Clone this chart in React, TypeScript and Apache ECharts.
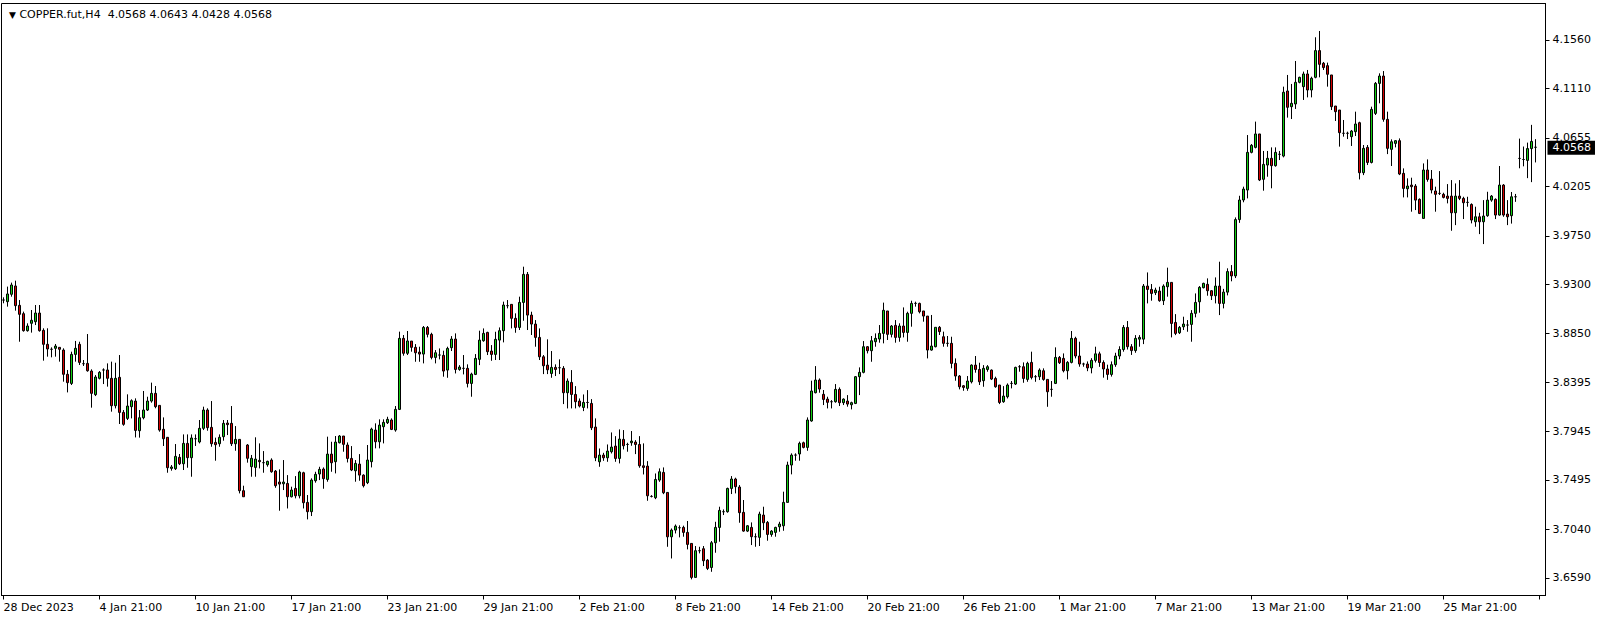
import React, { useEffect, useRef } from 'react';
import * as echarts from 'echarts';

const symbolName = 'COPPER.fut,H4';
const dateLabels = [
  '28 Dec 2023', '4 Jan 21:00', '10 Jan 21:00', '17 Jan 21:00', '23 Jan 21:00', '29 Jan 21:00',
  '2 Feb 21:00', '8 Feb 21:00', '14 Feb 21:00', '20 Feb 21:00', '26 Feb 21:00', '1 Mar 21:00',
  '7 Mar 21:00', '13 Mar 21:00', '19 Mar 21:00', '25 Mar 21:00',
];
const labelEvery = 24;
const emptyBarsRight = 2;
const yTickValues = [3.659, 3.704, 3.7495, 3.7945, 3.8395, 3.885, 3.93, 3.975, 4.0205, 4.0655, 4.111, 4.156];
const yMin = 3.6428;
const yMax = 4.1896;

const opens = [
  3.9157, 3.9142, 3.9210, 3.9287, 3.9108, 3.9031, 3.8874, 3.8942, 3.8957, 3.9037,
  3.8877, 3.8748, 3.8702, 3.8711, 3.8720, 3.8695, 3.8471, 3.8387, 3.8655, 3.8748,
  3.8569, 3.8572, 3.8501, 3.8283, 3.8434, 3.8511, 3.8511, 3.8434, 3.8181, 3.8443,
  3.8119, 3.8064, 3.8172, 3.8224, 3.7950, 3.8070, 3.8141, 3.8224, 3.8295, 3.8184,
  3.7963, 3.7889, 3.7602, 3.7599, 3.7704, 3.7645, 3.7833, 3.7701, 3.7876, 3.7846,
  3.7972, 3.8141, 3.7981, 3.7842, 3.7830, 3.7895, 3.8021, 3.8018, 3.7830, 3.7870,
  3.7396, 3.7818, 3.7618, 3.7611, 3.7676, 3.7655, 3.7636, 3.7679, 3.7577, 3.7476,
  3.7460, 3.7463, 3.7340, 3.7417, 3.7349, 3.7562, 3.7288, 3.7202, 3.7488, 3.7550,
  3.7596, 3.7500, 3.7734, 3.7664, 3.7839, 3.7901, 3.7818, 3.7694, 3.7580, 3.7642,
  3.7540, 3.7470, 3.7664, 3.7956, 3.7848, 3.7987, 3.8024, 3.8049, 3.7956, 3.8147,
  3.8803, 3.8665, 3.8778, 3.8720, 3.8676, 3.8658, 3.8904, 3.8840, 3.8627, 3.8649,
  3.8646, 3.8510, 3.8717, 3.8797, 3.8516, 3.8526, 3.8526, 3.8387, 3.8470, 3.8609,
  3.8781, 3.8858, 3.8686, 3.8655, 3.8787, 3.8874, 3.9105, 3.9117, 3.8988, 3.8904,
  3.9135, 3.9394, 3.9018, 3.8935, 3.8812, 3.8633, 3.8556, 3.8479, 3.8535, 3.8532,
  3.8526, 3.8301, 3.8396, 3.8285, 3.8224, 3.8165, 3.8211, 3.8202, 3.7984, 3.7663,
  3.7725, 3.7700, 3.7756, 3.7808, 3.7694, 3.7870, 3.7823, 3.7839, 3.7845, 3.7823,
  3.7626, 3.7623, 3.7343, 3.7331, 3.7494, 3.7565, 3.7380, 3.6970, 3.7032, 3.7054,
  3.7057, 3.7011, 3.6909, 3.6595, 3.6842, 3.6860, 3.6755, 3.6687, 3.6915, 3.7057,
  3.7202, 3.7202, 3.7417, 3.7504, 3.7430, 3.7196, 3.7023, 3.7057, 3.6971, 3.6965,
  3.7171, 3.7103, 3.6992, 3.7011, 3.7063, 3.7072, 3.7288, 3.7633, 3.7725, 3.7735,
  3.7839, 3.7796, 3.8040, 3.8301, 3.8418, 3.8286, 3.8242, 3.8218, 3.8218, 3.8332,
  3.8209, 3.8224, 3.8190, 3.8202, 3.8449, 3.8489, 3.8726, 3.8689, 3.8772, 3.8797,
  3.8849, 3.9056, 3.8840, 3.8923, 3.8812, 3.8917, 3.8858, 3.9034, 3.9126, 3.9126,
  3.9056, 3.9009, 3.8695, 3.8726, 3.8905, 3.8818, 3.8757, 3.8757, 3.8572, 3.8455,
  3.8365, 3.8341, 3.8402, 3.8556, 3.8516, 3.8412, 3.8516, 3.8510, 3.8433, 3.8372,
  3.8218, 3.8264, 3.8387, 3.8381, 3.8541, 3.8541, 3.8424, 3.8581, 3.8449, 3.8449,
  3.8504, 3.8424, 3.8332, 3.8387, 3.8627, 3.8618, 3.8504, 3.8581, 3.8803, 3.8640,
  3.8566, 3.8566, 3.8530, 3.8600, 3.8660, 3.8580, 3.8520, 3.8470, 3.8560, 3.8640,
  3.8700, 3.8904, 3.8726, 3.8690, 3.8796, 3.8796, 3.9286, 3.9255, 3.9225, 3.9240,
  3.9151, 3.9280, 3.9320, 3.8950, 3.8855, 3.8910, 3.8926, 3.8932, 3.9034, 3.9141,
  3.9271, 3.9302, 3.9243, 3.9197, 3.9286, 3.9126, 3.9230, 3.9420, 3.9380, 3.9900,
  4.0081, 4.0173, 4.0521, 4.0567, 4.0691, 4.0272, 4.0404, 4.0466, 4.0398, 4.0503,
  4.0487, 4.1088, 4.0943, 4.0968, 4.1168, 4.1128, 4.1245, 4.1097, 4.1214, 4.1461,
  4.1344, 4.1322, 4.1236, 4.0949, 4.0912, 4.0697, 4.0697, 4.0666, 4.0712, 4.0795,
  4.0333, 4.0567, 4.0428, 4.0881, 4.1158, 4.1226, 4.0826, 4.0549, 4.0604, 4.0629,
  4.0327, 4.0185, 4.0219, 4.0210, 4.0087, 3.9911, 4.0358, 4.0274, 4.0164, 4.0142,
  4.0133, 4.0117, 4.0117, 3.9963, 4.0117, 4.0096, 4.0059, 4.0040, 3.9880, 3.9926,
  3.9880, 3.9936, 4.0080, 4.0087, 3.9942, 4.0219, 3.9951, 3.9936, 4.0111, 4.0465,
  4.0455, 4.0447, 4.0556, 4.0568,
];

const highs = [
  3.9182, 3.9281, 3.9318, 3.9336, 3.9157, 3.9050, 3.8942, 3.9065, 3.9111, 3.9111,
  3.8896, 3.8896, 3.8720, 3.8751, 3.8720, 3.8711, 3.8511, 3.8680, 3.8779, 3.8772,
  3.8603, 3.8843, 3.8517, 3.8464, 3.8501, 3.8526, 3.8572, 3.8588, 3.8578, 3.8649,
  3.8141, 3.8286, 3.8240, 3.8249, 3.8141, 3.8317, 3.8264, 3.8394, 3.8363, 3.8184,
  3.8073, 3.7889, 3.7633, 3.7827, 3.7735, 3.7916, 3.7916, 3.7916, 3.7916, 3.8049,
  3.8172, 3.8157, 3.8224, 3.7886, 3.7916, 3.8049, 3.8049, 3.8178, 3.7993, 3.7870,
  3.7442, 3.7827, 3.7726, 3.7889, 3.7833, 3.7762, 3.7673, 3.7695, 3.7587, 3.7593,
  3.7679, 3.7540, 3.7433, 3.7531, 3.7580, 3.7571, 3.7356, 3.7510, 3.7571, 3.7617,
  3.7611, 3.7895, 3.7848, 3.7901, 3.7910, 3.7901, 3.7842, 3.7808, 3.7679, 3.7734,
  3.7547, 3.7818, 3.7978, 3.8018, 3.8055, 3.8055, 3.8079, 3.8064, 3.8178, 3.8865,
  3.8834, 3.8871, 3.8778, 3.8750, 3.8726, 3.8917, 3.8917, 3.8855, 3.8695, 3.8710,
  3.8689, 3.8726, 3.8824, 3.8849, 3.8556, 3.8649, 3.8563, 3.8486, 3.8658, 3.8874,
  3.8895, 3.8864, 3.8741, 3.8864, 3.8904, 3.9142, 3.9157, 3.9117, 3.9034, 3.9188,
  3.9465, 3.9416, 3.9049, 3.8972, 3.8895, 3.8649, 3.8794, 3.8686, 3.8563, 3.8609,
  3.8547, 3.8433, 3.8510, 3.8362, 3.8248, 3.8285, 3.8325, 3.8242, 3.8064, 3.7786,
  3.7746, 3.7823, 3.7934, 3.7900, 3.7962, 3.7956, 3.7839, 3.7947, 3.7863, 3.7900,
  3.7833, 3.7669, 3.7355, 3.7555, 3.7602, 3.7611, 3.7380, 3.7047, 3.7084, 3.7076,
  3.7073, 3.7116, 3.6909, 3.6885, 3.6878, 3.6885, 3.6764, 3.6931, 3.7109, 3.7248,
  3.7223, 3.7424, 3.7531, 3.7516, 3.7448, 3.7310, 3.7079, 3.7103, 3.7002, 3.7202,
  3.7248, 3.7116, 3.7032, 3.7063, 3.7109, 3.7387, 3.7664, 3.7741, 3.7741, 3.7849,
  3.7849, 3.8073, 3.8412, 3.8547, 3.8433, 3.8326, 3.8264, 3.8233, 3.8381, 3.8350,
  3.8249, 3.8279, 3.8218, 3.8455, 3.8535, 3.8778, 3.8732, 3.8825, 3.8849, 3.8926,
  3.9133, 3.9056, 3.8926, 3.8972, 3.8942, 3.9089, 3.9049, 3.9151, 3.9142, 3.9133,
  3.9056, 3.9009, 3.9019, 3.8905, 3.8917, 3.8865, 3.8825, 3.8818, 3.8618, 3.8464,
  3.8372, 3.8455, 3.8563, 3.8640, 3.8578, 3.8556, 3.8556, 3.8516, 3.8449, 3.8372,
  3.8362, 3.8387, 3.8409, 3.8541, 3.8556, 3.8581, 3.8587, 3.8680, 3.8464, 3.8526,
  3.8526, 3.8424, 3.8409, 3.8720, 3.8640, 3.8664, 3.8593, 3.8871, 3.8818, 3.8772,
  3.8578, 3.8590, 3.8620, 3.8726, 3.8680, 3.8600, 3.8560, 3.8590, 3.8670, 3.8730,
  3.8926, 3.8963, 3.8750, 3.8833, 3.8833, 3.9305, 3.9412, 3.9305, 3.9271, 3.9280,
  3.9302, 3.9456, 3.9320, 3.9027, 3.8917, 3.9003, 3.8972, 3.9064, 3.9218, 3.9286,
  3.9317, 3.9357, 3.9249, 3.9366, 3.9511, 3.9260, 3.9450, 3.9480, 3.9920, 4.0120,
  4.0204, 4.0681, 4.0598, 4.0805, 4.0691, 4.0534, 4.0534, 4.0567, 4.0567, 4.0534,
  4.1128, 4.1236, 4.1153, 4.1365, 4.1220, 4.1267, 4.1282, 4.1220, 4.1584, 4.1642,
  4.1356, 4.1350, 4.1236, 4.0949, 4.0912, 4.0820, 4.0712, 4.0728, 4.0897, 4.0804,
  4.0589, 4.0589, 4.0943, 4.1171, 4.1251, 4.1272, 4.0897, 4.0641, 4.0635, 4.0650,
  4.0373, 4.0281, 4.0287, 4.0228, 4.0096, 4.0419, 4.0456, 4.0358, 4.0204, 4.0348,
  4.0148, 4.0228, 4.0265, 4.0234, 4.0265, 4.0111, 4.0111, 4.0050, 4.0019, 3.9963,
  4.0080, 4.0157, 4.0127, 4.0096, 4.0395, 4.0228, 4.0080, 4.0155, 4.0137, 4.0648,
  4.0575, 4.0611, 4.0775, 4.0643,
];

const lows = [
  3.9127, 3.9096, 3.9188, 3.9059, 3.8772, 3.8865, 3.8865, 3.8856, 3.8926, 3.8865,
  3.8597, 3.8634, 3.8628, 3.8634, 3.8588, 3.8403, 3.8304, 3.8372, 3.8588, 3.8557,
  3.8548, 3.8495, 3.8163, 3.8270, 3.8424, 3.8381, 3.8357, 3.8126, 3.8156, 3.8012,
  3.7996, 3.8049, 3.8064, 3.7888, 3.7886, 3.8055, 3.8132, 3.8209, 3.8157, 3.7941,
  3.7809, 3.7562, 3.7581, 3.7587, 3.7633, 3.7587, 3.7608, 3.7525, 3.7809, 3.7833,
  3.7956, 3.7950, 3.7802, 3.7673, 3.7802, 3.7858, 3.7910, 3.7809, 3.7765, 3.7371,
  3.7340, 3.7655, 3.7525, 3.7525, 3.7602, 3.7562, 3.7618, 3.7562, 3.7423, 3.7211,
  3.7402, 3.7232, 3.7334, 3.7325, 3.7325, 3.7232, 3.7131, 3.7162, 3.7470, 3.7494,
  3.7414, 3.7479, 3.7571, 3.7556, 3.7833, 3.7756, 3.7657, 3.7577, 3.7479, 3.7488,
  3.7426, 3.7457, 3.7611, 3.7787, 3.7787, 3.7833, 3.8012, 3.7956, 3.7941, 3.8141,
  3.8643, 3.8649, 3.8680, 3.8587, 3.8587, 3.8572, 3.8812, 3.8609, 3.8572, 3.8609,
  3.8449, 3.8439, 3.8686, 3.8479, 3.8504, 3.8470, 3.8350, 3.8264, 3.8464, 3.8556,
  3.8772, 3.8649, 3.8596, 3.8603, 3.8603, 3.8766, 3.9080, 3.8895, 3.8855, 3.8880,
  3.8966, 3.8880, 3.8834, 3.8726, 3.8603, 3.8473, 3.8473, 3.8439, 3.8455, 3.8473,
  3.8196, 3.8156, 3.8156, 3.8156, 3.8165, 3.8131, 3.8156, 3.7956, 3.7669, 3.7617,
  3.7672, 3.7663, 3.7740, 3.7663, 3.7648, 3.7777, 3.7756, 3.7811, 3.7734, 3.7608,
  3.7546, 3.7303, 3.7334, 3.7318, 3.7478, 3.7364, 3.6878, 3.6770, 3.7001, 3.6965,
  3.6971, 3.6854, 3.6577, 3.6595, 3.6817, 3.6700, 3.6663, 3.6647, 3.6823, 3.6925,
  3.7171, 3.7193, 3.7365, 3.7371, 3.7100, 3.7017, 3.7014, 3.6894, 3.6878, 3.6885,
  3.7032, 3.6934, 3.6971, 3.6971, 3.7017, 3.7026, 3.7288, 3.7547, 3.7673, 3.7673,
  3.7787, 3.7765, 3.8033, 3.8295, 3.8301, 3.8187, 3.8156, 3.8156, 3.8209, 3.8178,
  3.8187, 3.8172, 3.8147, 3.8196, 3.8279, 3.8480, 3.8664, 3.8587, 3.8726, 3.8763,
  3.8757, 3.8788, 3.8812, 3.8763, 3.8772, 3.8812, 3.8772, 3.8911, 3.9096, 3.9034,
  3.8957, 3.8618, 3.8689, 3.8720, 3.8834, 3.8726, 3.8726, 3.8526, 3.8412, 3.8332,
  3.8319, 3.8319, 3.8387, 3.8486, 3.8372, 3.8356, 3.8495, 3.8418, 3.8347, 3.8196,
  3.8208, 3.8248, 3.8341, 3.8372, 3.8495, 3.8393, 3.8402, 3.8424, 3.8402, 3.8418,
  3.8412, 3.8171, 3.8264, 3.8381, 3.8566, 3.8489, 3.8424, 3.8572, 3.8618, 3.8541,
  3.8541, 3.8500, 3.8480, 3.8580, 3.8540, 3.8440, 3.8420, 3.8450, 3.8540, 3.8610,
  3.8680, 3.8700, 3.8650, 3.8670, 3.8726, 3.8750, 3.9126, 3.9151, 3.9203, 3.9141,
  3.9111, 3.9188, 3.8812, 3.8833, 3.8843, 3.8880, 3.8864, 3.8772, 3.8997, 3.9040,
  3.9265, 3.9197, 3.9157, 3.9126, 3.9018, 3.9080, 3.9200, 3.9330, 3.9360, 3.9870,
  4.0060, 4.0096, 4.0512, 4.0558, 4.0256, 4.0167, 4.0296, 4.0189, 4.0389, 4.0450,
  4.0475, 4.0842, 4.0829, 4.0922, 4.1159, 4.1005, 4.1029, 4.1029, 4.1205, 4.1214,
  4.1282, 4.1128, 4.0912, 4.0811, 4.0574, 4.0666, 4.0644, 4.0580, 4.0672, 4.0271,
  4.0311, 4.0404, 4.0419, 4.0866, 4.0974, 4.0804, 4.0505, 4.0395, 4.0567, 4.0311,
  4.0105, 4.0105, 3.9973, 3.9988, 3.9951, 3.9911, 4.0250, 4.0142, 3.9973, 4.0127,
  4.0096, 4.0050, 3.9797, 3.9849, 4.0080, 3.9905, 4.0019, 3.9865, 3.9834, 3.9766,
  3.9674, 3.9926, 4.0065, 3.9905, 3.9936, 3.9926, 3.9849, 3.9863, 4.0064, 4.0374,
  4.0392, 4.0283, 4.0246, 4.0428,
];

const closes = [
  3.9157, 3.9213, 3.9296, 3.9105, 3.9025, 3.8874, 3.8917, 3.8970, 3.9037, 3.8874,
  3.8748, 3.8705, 3.8702, 3.8732, 3.8702, 3.8471, 3.8394, 3.8655, 3.8711, 3.8581,
  3.8569, 3.8504, 3.8295, 3.8446, 3.8489, 3.8511, 3.8434, 3.8181, 3.8434, 3.8119,
  3.8009, 3.8178, 3.8227, 3.7953, 3.8070, 3.8141, 3.8224, 3.8295, 3.8172, 3.7956,
  3.7876, 3.7608, 3.7615, 3.7713, 3.7645, 3.7833, 3.7701, 3.7883, 3.7876, 3.7972,
  3.8141, 3.7978, 3.7830, 3.7821, 3.7889, 3.8018, 3.8006, 3.7830, 3.7870, 3.7396,
  3.7340, 3.7695, 3.7695, 3.7688, 3.7664, 3.7655, 3.7667, 3.7571, 3.7442, 3.7457,
  3.7476, 3.7340, 3.7402, 3.7349, 3.7568, 3.7285, 3.7202, 3.7494, 3.7547, 3.7593,
  3.7507, 3.7734, 3.7654, 3.7845, 3.7901, 3.7824, 3.7694, 3.7587, 3.7648, 3.7540,
  3.7442, 3.7679, 3.7965, 3.7848, 3.8002, 3.8027, 3.8055, 3.7962, 3.8147, 3.8803,
  3.8665, 3.8779, 3.8720, 3.8670, 3.8658, 3.8904, 3.8840, 3.8627, 3.8670, 3.8649,
  3.8501, 3.8710, 3.8797, 3.8516, 3.8538, 3.8526, 3.8387, 3.8473, 3.8618, 3.8787,
  3.8849, 3.8680, 3.8655, 3.8794, 3.8874, 3.9111, 3.9105, 3.8988, 3.8904, 3.9135,
  3.9394, 3.9018, 3.8935, 3.8812, 3.8633, 3.8550, 3.8513, 3.8535, 3.8516, 3.8532,
  3.8301, 3.8409, 3.8285, 3.8218, 3.8178, 3.8211, 3.8211, 3.7977, 3.7700, 3.7725,
  3.7700, 3.7762, 3.7799, 3.7694, 3.7873, 3.7811, 3.7823, 3.7854, 3.7823, 3.7626,
  3.7611, 3.7349, 3.7343, 3.7500, 3.7571, 3.7377, 3.6970, 3.7032, 3.7069, 3.7054,
  3.7011, 3.6900, 3.6595, 3.6842, 3.6842, 3.6749, 3.6678, 3.6915, 3.7057, 3.7214,
  3.7202, 3.7417, 3.7504, 3.7433, 3.7193, 3.7023, 3.7072, 3.6971, 3.6971, 3.7180,
  3.7100, 3.6992, 3.7023, 3.7057, 3.7088, 3.7288, 3.7633, 3.7725, 3.7725, 3.7833,
  3.7796, 3.8049, 3.8317, 3.8418, 3.8335, 3.8239, 3.8212, 3.8218, 3.8332, 3.8209,
  3.8242, 3.8196, 3.8209, 3.8449, 3.8489, 3.8726, 3.8689, 3.8781, 3.8803, 3.8849,
  3.9062, 3.8840, 3.8917, 3.8812, 3.8917, 3.8858, 3.9034, 3.9126, 3.9126, 3.9049,
  3.9009, 3.8695, 3.8732, 3.8905, 3.8865, 3.8757, 3.8757, 3.8572, 3.8455, 3.8356,
  3.8350, 3.8409, 3.8556, 3.8516, 3.8402, 3.8526, 3.8541, 3.8427, 3.8356, 3.8211,
  3.8270, 3.8372, 3.8387, 3.8535, 3.8541, 3.8433, 3.8572, 3.8442, 3.8449, 3.8510,
  3.8424, 3.8310, 3.8332, 3.8627, 3.8578, 3.8504, 3.8581, 3.8803, 3.8640, 3.8566,
  3.8566, 3.8530, 3.8600, 3.8660, 3.8580, 3.8520, 3.8470, 3.8560, 3.8640, 3.8700,
  3.8904, 3.8726, 3.8690, 3.8803, 3.8812, 3.9286, 3.9255, 3.9218, 3.9249, 3.9151,
  3.9286, 3.9320, 3.8941, 3.8849, 3.8904, 3.8935, 3.8926, 3.9034, 3.9135, 3.9274,
  3.9311, 3.9243, 3.9197, 3.9286, 3.9126, 3.9230, 3.9420, 3.9380, 3.9900, 4.0081,
  4.0182, 4.0521, 4.0586, 4.0691, 4.0266, 4.0410, 4.0466, 4.0398, 4.0521, 4.0503,
  4.1076, 4.0937, 4.0974, 4.1168, 4.1214, 4.1245, 4.1097, 4.1205, 4.1461, 4.1334,
  4.1304, 4.1242, 4.0943, 4.0897, 4.0703, 4.0697, 4.0697, 4.0718, 4.0783, 4.0333,
  4.0558, 4.0428, 4.0918, 4.1158, 4.1226, 4.0826, 4.0558, 4.0619, 4.0629, 4.0321,
  4.0188, 4.0210, 4.0204, 4.0080, 3.9957, 4.0358, 4.0271, 4.0173, 4.0133, 4.0142,
  4.0105, 4.0096, 3.9963, 4.0117, 4.0096, 4.0056, 4.0059, 3.9896, 3.9926, 3.9880,
  3.9933, 4.0080, 4.0117, 3.9942, 4.0219, 3.9942, 3.9926, 4.0111, 4.0111, 4.0465,
  4.0455, 4.0556, 4.0622, 4.0568,
];

const FONT = "'DejaVu Sans', 'Noto Sans', sans-serif";
const UP_COLOR = '#12cf12';
const DOWN_COLOR = '#d40000';

export default function App() {
  const ref = useRef<HTMLDivElement>(null);

  useEffect(() => {
    if (!ref.current) return;
    const chart = echarts.init(ref.current, null, { renderer: 'svg' });
    const n = opens.length;
    const cats = Array.from({ length: n + emptyBarsRight }, (_, i) => String(i));
    const ohlc = opens.map((o, i) => {
      const c = closes[i];
      return [o, c, Math.min(lows[i], o, c), Math.max(highs[i], o, c)];
    });
    const last = n - 1;
    const f4 = (v: number) => v.toFixed(4);
    const headerText = `{tri|▼} {txt|${symbolName}  ${f4(opens[last])} ${f4(highs[last])} ${f4(lows[last])} ${f4(closes[last])}}`;
    const isLabelIdx = (i: number) => i % labelEvery === 0;

    chart.setOption({
      animation: false,
      backgroundColor: '#ffffff',
      title: {
        left: 4,
        top: 4,
        text: headerText,
        textStyle: {
          fontWeight: 'normal',
          fontFamily: FONT,
          fontSize: 11,
          color: '#000',
          rich: {
            tri: { fontSize: 9, fontFamily: FONT, color: '#000', fontWeight: 'normal' },
            txt: { fontSize: 11, fontFamily: FONT, color: '#000', fontWeight: 'normal' },
          },
        },
      },
      grid: {
        left: 1.5,
        right: 58.5,
        top: 3.5,
        bottom: 25.5,
        show: true,
        borderColor: '#000',
        borderWidth: 1,
        backgroundColor: '#ffffff',
        containLabel: false,
      },
      xAxis: {
        type: 'category',
        data: cats,
        boundaryGap: true,
        axisLine: { show: true, lineStyle: { color: '#000', width: 1 } },
        axisTick: {
          show: true,
          alignWithLabel: true,
          interval: (i: number) => isLabelIdx(i),
          length: 4,
          lineStyle: { color: '#000' },
        },
        axisLabel: {
          show: true,
          interval: (i: number) => isLabelIdx(i),
          formatter: (_v: string, i: number) => (isLabelIdx(i) ? dateLabels[i / labelEvery] ?? '' : ''),
          align: 'left',
          margin: 6,
          color: '#000',
          fontFamily: FONT,
          fontSize: 11,
          hideOverlap: false,
        },
        splitLine: { show: false },
      },
      yAxis: {
        type: 'value',
        position: 'right',
        min: yMin,
        max: yMax,
        scale: true,
        axisLine: { show: true, lineStyle: { color: '#000', width: 1 } },
        axisTick: { show: true, length: 4, customValues: yTickValues, lineStyle: { color: '#000' } },
        axisLabel: {
          show: true,
          customValues: yTickValues,
          formatter: (v: number) => v.toFixed(4),
          margin: 7,
          color: '#000',
          fontFamily: FONT,
          fontSize: 11,
        },
        splitLine: { show: false },
      },
      series: [
        {
          type: 'candlestick',
          data: ohlc,
          barWidth: 2,
          z: 2,
          itemStyle: {
            color: UP_COLOR,
            color0: DOWN_COLOR,
            borderColor: '#000',
            borderColor0: '#000',
            borderColorDoji: '#000',
            borderWidth: 1,
          },
          emphasis: { disabled: true },
          markLine: {
            silent: true,
            symbol: ['none', 'none'],
            z: 10,
            data: [{ yAxis: closes[last] }],
            lineStyle: { color: 'rgba(0,0,0,0)', width: 0, type: 'solid' },
            label: {
              show: true,
              position: 'end',
              distance: 2,
              offset: [0, 4],
              formatter: f4(closes[last]),
              backgroundColor: '#000000',
              color: '#ffffff',
              opacity: 1,
              padding: [2, 4, 1, 5],
              fontFamily: FONT,
              fontSize: 11,
            },
            emphasis: { disabled: true },
          },
        },
      ],
    });

    return () => chart.dispose();
  }, []);

  return (
    <div
      ref={ref}
      style={{ position: 'fixed', left: 0, top: 0, width: 1604, height: 621, background: '#fff' }}
    />
  );
}
